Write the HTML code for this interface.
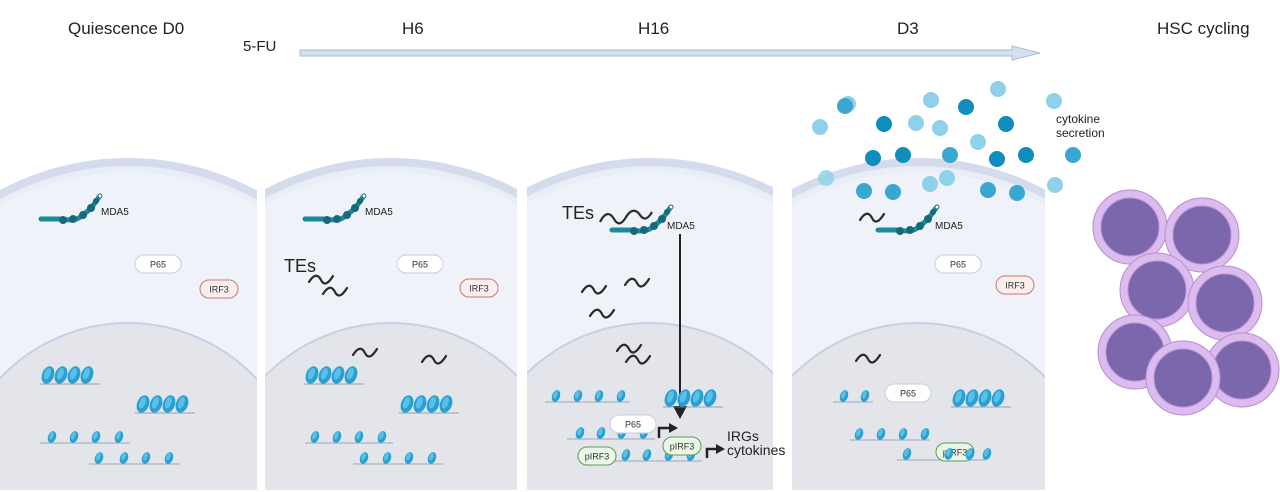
<!DOCTYPE html>
<html><head><meta charset="utf-8"><style>
html,body{margin:0;padding:0;background:#fff;width:1280px;height:492px;overflow:hidden;}
svg{display:block;font-family:"Liberation Sans",sans-serif;}
</style></head><body>
<svg width="1280" height="492" viewBox="0 0 1280 492" xmlns="http://www.w3.org/2000/svg">
<defs>
<g id="cell">
  <rect x="0" y="0" width="258" height="335" fill="#fff"/>
  <circle cx="128" cy="430" r="272" fill="#d3dbec"/>
  <circle cx="128" cy="430" r="264" fill="#e9edf6"/>
  <circle cx="128" cy="430" r="258" fill="#eff2f9"/>
  <circle cx="128" cy="499" r="177" fill="#c9cfe3"/>
  <circle cx="128" cy="499" r="175" fill="#e3e5ea"/>
</g>
<clipPath id="c1"><rect x="0" y="150" width="257" height="340"/></clipPath>
<clipPath id="c2"><rect x="0" y="150" width="252" height="340"/></clipPath>
<clipPath id="c3"><rect x="0" y="150" width="246" height="340"/></clipPath>
<clipPath id="c4"><rect x="0" y="150" width="253" height="340"/></clipPath>
<g id="nuc"><ellipse cx="0" cy="0" rx="4" ry="6" fill="#2aa0d2" transform="rotate(20)"/><ellipse cx="-1" cy="-1" rx="2" ry="4" fill="#5cc0e6" transform="rotate(20)"/></g>
<g id="clus">
  <line x1="-2" y1="9" x2="58" y2="9" stroke="#7a8aa0" stroke-width="0.8"/>
  <use href="#big" x="6"/><use href="#big" x="19"/><use href="#big" x="32"/><use href="#big" x="45"/>
</g>
<g id="big"><ellipse cx="0" cy="0" rx="6" ry="9" fill="#2aa0d2" transform="rotate(20)"/><ellipse cx="-1" cy="-1" rx="3" ry="6" fill="#5cc0e6" transform="rotate(20)"/></g>
<path id="sq" d="M0,6 C5,-2 9,-2 12,4 C15,10 19,8 24,0" fill="none" stroke="#2a2a2a" stroke-width="2.2" stroke-linecap="round"/>
<g id="mda">
  <path d="M0,2 L18,2 C28,3 34,5 42,-2 C50,-8 54,-14 58,-20" fill="none" stroke="#1b8a9a" stroke-width="5" stroke-linecap="round"/>
  <circle cx="22" cy="3" r="4" fill="#16697a"/><circle cx="32" cy="2" r="4" fill="#16697a"/><circle cx="42" cy="-2" r="4" fill="#16697a"/><circle cx="50" cy="-9" r="4" fill="#16697a"/><circle cx="55" cy="-16" r="3" fill="#16697a"/>
  <circle cx="59" cy="-21" r="2" fill="#fff" stroke="#16697a"/>
</g>
<g id="p65"><rect x="-23" y="-9" width="46" height="18" rx="9" fill="#fff" stroke="#c6cde0"/><text x="0" y="3.5" font-size="9" text-anchor="middle" fill="#333">P65</text></g>
<g id="irf3"><rect x="-19" y="-9" width="38" height="18" rx="9" fill="#fbeeee" stroke="#c9786f"/><text x="0" y="3.5" font-size="9" text-anchor="middle" fill="#333">IRF3</text></g>
<g id="pirf3"><rect x="-19" y="-9" width="38" height="18" rx="9" fill="#eaf6e6" stroke="#5a9a52"/><text x="0" y="3.5" font-size="9" text-anchor="middle" fill="#333">pIRF3</text></g>
</defs>

<g font-size="17" fill="#222">
<text x="68" y="34">Quiescence D0</text>
<text x="402" y="34">H6</text>
<text x="638" y="34">H16</text>
<text x="897" y="34">D3</text>
<text x="1157" y="34">HSC cycling</text>
<text x="243" y="51" font-size="15">5-FU</text>
</g>
<path d="M300,50 L1012,50 L1012,46 L1040,53 L1012,60 L1012,56 L300,56 Z" fill="#d4e0ee" stroke="#a8bdd6" stroke-width="1"/>

<g clip-path="url(#c1)"><use href="#cell"/></g>
<g transform="translate(265,0)"><g clip-path="url(#c2)"><use href="#cell" transform="translate(-2,0)"/></g></g>
<g transform="translate(527,0)"><g clip-path="url(#c3)"><use href="#cell" transform="translate(-5,0)"/></g></g>
<g transform="translate(792,0)"><g clip-path="url(#c4)"><use href="#cell" transform="translate(-2,0)"/></g></g>

<use href="#mda" x="41" y="217"/><text x="101" y="215" font-size="10" fill="#222">MDA5</text>
<use href="#p65" x="158" y="264"/><use href="#irf3" x="219" y="289"/>
<use href="#clus" x="42" y="375"/><use href="#clus" x="137" y="404"/>
<g><line x1="40" y1="443" x2="130" y2="443" stroke="#8090a8" stroke-width="0.8"/><use href="#nuc" x="52" y="437"/><use href="#nuc" x="74" y="437"/><use href="#nuc" x="96" y="437"/><use href="#nuc" x="119" y="437"/>
<line x1="89" y1="464" x2="180" y2="464" stroke="#8090a8" stroke-width="0.8"/><use href="#nuc" x="99" y="458"/><use href="#nuc" x="124" y="458"/><use href="#nuc" x="146" y="458"/><use href="#nuc" x="169" y="458"/></g>

<use href="#mda" x="305" y="217"/><text x="365" y="215" font-size="10" fill="#222">MDA5</text>
<use href="#p65" x="420" y="264"/><use href="#irf3" x="479" y="288"/>
<text x="284" y="272" font-size="18" fill="#222">TEs</text>
<use href="#sq" x="309" y="276"/><use href="#sq" x="323" y="288"/>
<use href="#sq" x="353" y="349"/><use href="#sq" x="422" y="356"/>
<use href="#clus" x="306" y="375"/><use href="#clus" x="401" y="404"/>
<line x1="305" y1="443" x2="393" y2="443" stroke="#8090a8" stroke-width="0.8"/><use href="#nuc" x="315" y="437"/><use href="#nuc" x="337" y="437"/><use href="#nuc" x="359" y="437"/><use href="#nuc" x="382" y="437"/>
<line x1="353" y1="464" x2="443" y2="464" stroke="#8090a8" stroke-width="0.8"/><use href="#nuc" x="364" y="458"/><use href="#nuc" x="387" y="458"/><use href="#nuc" x="409" y="458"/><use href="#nuc" x="432" y="458"/>

<text x="562" y="219" font-size="18" fill="#222">TEs</text>
<use href="#mda" x="612" y="228"/><text x="667" y="229" font-size="10" fill="#222">MDA5</text>
<path d="M600,222 C605,212 610,212 614,219 C618,226 622,224 626,217 M626,217 C631,209 636,209 640,215 C644,221 648,219 652,212" fill="none" stroke="#2a2a2a" stroke-width="2.2"/>
<line x1="680" y1="234" x2="680" y2="410" stroke="#222" stroke-width="2"/>
<path d="M673,406 L687,406 L680,419 Z" fill="#222"/>
<use href="#sq" x="582" y="286"/><use href="#sq" x="625" y="279"/><use href="#sq" x="590" y="310"/><use href="#sq" x="617" y="345"/><use href="#sq" x="626" y="356"/>
<line x1="545" y1="402" x2="630" y2="402" stroke="#8090a8" stroke-width="0.8"/><use href="#nuc" x="556" y="396"/><use href="#nuc" x="578" y="396"/><use href="#nuc" x="599" y="396"/><use href="#nuc" x="621" y="396"/>
<use href="#clus" x="665" y="398"/>
<line x1="567" y1="439" x2="655" y2="439" stroke="#8090a8" stroke-width="0.8"/><use href="#nuc" x="580" y="433"/><use href="#nuc" x="601" y="433"/><use href="#nuc" x="622" y="433"/><use href="#nuc" x="644" y="433"/>
<use href="#p65" x="633" y="424"/>
<path d="M659,438 L659,428 L670,428" fill="none" stroke="#222" stroke-width="2.5"/><path d="M669,423 L678,428 L669,433 Z" fill="#222"/>
<line x1="590" y1="461" x2="702" y2="461" stroke="#8090a8" stroke-width="0.8"/><use href="#nuc" x="626" y="455"/><use href="#nuc" x="647" y="455"/><use href="#nuc" x="669" y="455"/><use href="#nuc" x="691" y="455"/>
<use href="#pirf3" x="682" y="446"/><use href="#pirf3" x="597" y="456"/>
<path d="M707,458 L707,449 L717,449" fill="none" stroke="#222" stroke-width="2.5"/><path d="M716,444 L725,449 L716,454 Z" fill="#222"/>
<text x="727" y="441" font-size="14" fill="#222">IRGs</text>
<text x="727" y="455" font-size="14" fill="#222">cytokines</text>

<use href="#mda" x="878" y="228"/><text x="935" y="229" font-size="10" fill="#222">MDA5</text>
<use href="#sq" x="860" y="214"/>
<use href="#p65" x="958" y="264"/><use href="#irf3" x="1015" y="285"/>
<use href="#sq" x="856" y="355"/>
<line x1="833" y1="402" x2="873" y2="402" stroke="#8090a8" stroke-width="0.8"/><use href="#nuc" x="844" y="396"/><use href="#nuc" x="865" y="396"/>
<use href="#p65" x="908" y="393"/>
<use href="#clus" x="953" y="398"/>
<line x1="850" y1="440" x2="930" y2="440" stroke="#8090a8" stroke-width="0.8"/><use href="#nuc" x="859" y="434"/><use href="#nuc" x="881" y="434"/><use href="#nuc" x="903" y="434"/><use href="#nuc" x="925" y="434"/>
<line x1="897" y1="460" x2="985" y2="460" stroke="#8090a8" stroke-width="0.8"/><use href="#nuc" x="907" y="454"/><use href="#pirf3" x="955" y="452"/><use href="#nuc" x="949" y="454"/><use href="#nuc" x="970" y="454"/><use href="#nuc" x="987" y="454"/>

<g fill="#8fd0ea">
<circle cx="848" cy="104" r="8"/><circle cx="931" cy="100" r="8"/><circle cx="998" cy="89" r="8"/><circle cx="1054" cy="101" r="8"/>
<circle cx="820" cy="127" r="8"/><circle cx="916" cy="123" r="8"/><circle cx="940" cy="128" r="8"/><circle cx="978" cy="142" r="8"/>
<circle cx="826" cy="178" r="8" opacity="0.8"/><circle cx="930" cy="184" r="8"/><circle cx="947" cy="178" r="8"/><circle cx="1055" cy="185" r="8"/>
</g>
<g fill="#0f8dbd">
<circle cx="845" cy="106" r="8" fill="#3aa7d2"/><circle cx="966" cy="107" r="8"/><circle cx="884" cy="124" r="8"/><circle cx="1006" cy="124" r="8"/>
<circle cx="873" cy="158" r="8"/><circle cx="903" cy="155" r="8"/><circle cx="997" cy="159" r="8"/><circle cx="1026" cy="155" r="8"/>
</g>
<g fill="#3aa7d2">
<circle cx="950" cy="155" r="8"/><circle cx="1073" cy="155" r="8"/><circle cx="864" cy="191" r="8"/><circle cx="893" cy="192" r="8"/><circle cx="988" cy="190" r="8"/><circle cx="1017" cy="193" r="8"/>
</g>
<text x="1056" y="123" font-size="12" fill="#222">cytokine</text>
<text x="1056" y="137" font-size="12" fill="#222">secretion</text>

<g stroke="#b58fcf" stroke-width="1">
<circle cx="1130" cy="227" r="37" fill="#dcbcef"/><circle cx="1130" cy="227" r="29" fill="#7b67ab"/>
<circle cx="1202" cy="235" r="37" fill="#dcbcef"/><circle cx="1202" cy="235" r="29" fill="#7b67ab"/>
<circle cx="1157" cy="290" r="37" fill="#dcbcef"/><circle cx="1157" cy="290" r="29" fill="#7b67ab"/>
<circle cx="1225" cy="303" r="37" fill="#dcbcef"/><circle cx="1225" cy="303" r="29" fill="#7b67ab"/>
<circle cx="1135" cy="352" r="37" fill="#dcbcef"/><circle cx="1135" cy="352" r="29" fill="#7b67ab"/>
<circle cx="1242" cy="370" r="37" fill="#dcbcef"/><circle cx="1242" cy="370" r="29" fill="#7b67ab"/>
<circle cx="1183" cy="378" r="37" fill="#dcbcef"/><circle cx="1183" cy="378" r="29" fill="#7b67ab"/>
</g>
</svg>
</body></html>
